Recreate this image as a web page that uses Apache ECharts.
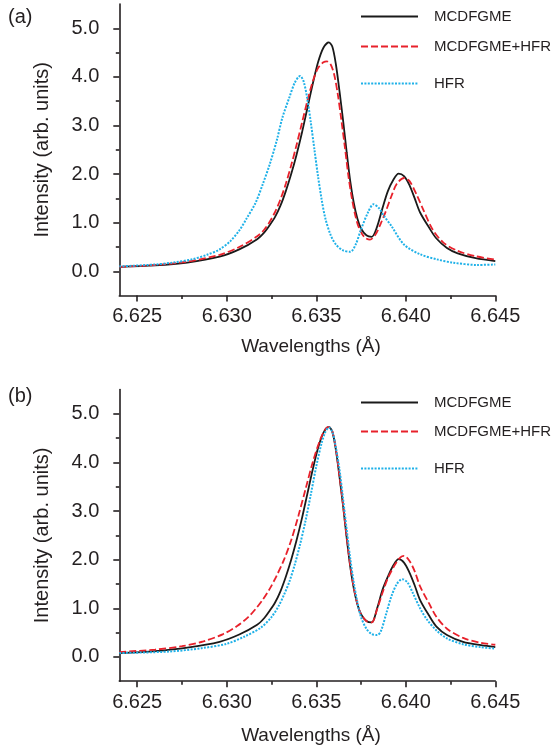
<!DOCTYPE html>
<html><head><meta charset="utf-8">
<script src="https://cdn.jsdelivr.net/npm/echarts@6/dist/echarts.min.js"></script>
<style>html,body{margin:0;padding:0;background:#fff}#c{width:552px;height:752px}</style>
</head><body><div id="c"></div>
<script>
// ---- tick values / labels ----
const xTicks = [6.625, 6.630, 6.635, 6.640, 6.645];
const xMinorTicks = [6.6275, 6.6325, 6.6375, 6.6425];
const yTicks = [0, 1, 2, 3, 4, 5];
const yMinorTicks = [0.5, 1.5, 2.5, 3.5, 4.5];
const seriesNames = ['MCDFGME', 'MCDFGME+HFR', 'HFR'];
const panelLabels = ['(a)', '(b)'];
const xTitle = 'Wavelengths (Å)';
const yTitle = 'Intensity (arb. units)';

// ---- panel (a) ----
const aBlackX = [6.6240,6.6260,6.6278,6.6296,6.6307,6.6317,6.6321,6.6324,6.6327,6.6330,6.6333,6.6336,6.6339,6.6342,6.6345,6.6348,6.6351,6.6354,6.6357,6.6359,6.6361,6.6363,6.6365,6.6367,6.6369,6.6371,6.6373,6.6375,6.6378,6.6381,6.6384,6.6387,6.6390,6.6393,6.6396,6.6399,6.6402,6.6405,6.6408,6.6413,6.6417,6.6423,6.6429,6.6439,6.6450];
const aBlackY = [0.09,0.12,0.18,0.30,0.45,0.66,0.80,0.95,1.12,1.35,1.65,2.00,2.40,2.85,3.35,3.85,4.30,4.60,4.71,4.62,4.25,3.70,3.10,2.45,1.85,1.40,1.08,0.88,0.74,0.71,0.92,1.30,1.65,1.88,2.01,1.96,1.78,1.50,1.21,0.90,0.68,0.48,0.37,0.27,0.21];
const aRedX = [6.6240,6.6260,6.6278,6.6296,6.6307,6.6317,6.6321,6.6324,6.6327,6.6330,6.6333,6.6336,6.6339,6.6342,6.6345,6.6348,6.6351,6.6354,6.6356,6.6358,6.6360,6.6362,6.6364,6.6366,6.6368,6.6370,6.6372,6.6374,6.6377,6.6380,6.6383,6.6386,6.6389,6.6392,6.6395,6.6399,6.6402,6.6406,6.6410,6.6415,6.6421,6.6429,6.6439,6.6450];
const aRedY = [0.09,0.13,0.20,0.34,0.50,0.72,0.86,1.02,1.22,1.48,1.80,2.18,2.60,3.05,3.50,3.90,4.18,4.30,4.32,4.26,4.05,3.65,3.12,2.55,1.95,1.48,1.12,0.88,0.70,0.65,0.75,0.98,1.25,1.55,1.80,1.92,1.86,1.58,1.25,0.86,0.59,0.42,0.31,0.24];
const aBlueX = [6.6240,6.6260,6.6270,6.6281,6.6289,6.6296,6.6302,6.6307,6.6311,6.6316,6.6320,6.6324,6.6328,6.6331,6.6335,6.6338,6.6341,6.6343,6.6345,6.6347,6.6349,6.6351,6.6353,6.6355,6.6358,6.6361,6.6365,6.6369,6.6372,6.6375,6.6379,6.6382,6.6385,6.6388,6.6392,6.6399,6.6408,6.6418,6.6426,6.6440,6.6450];
const aBlueY = [0.10,0.14,0.18,0.25,0.34,0.45,0.62,0.84,1.08,1.40,1.78,2.20,2.70,3.15,3.58,3.88,4.02,3.90,3.55,3.05,2.50,1.95,1.48,1.10,0.75,0.55,0.43,0.40,0.55,0.86,1.22,1.38,1.30,1.13,0.93,0.55,0.35,0.24,0.18,0.13,0.14];

// ---- panel (b) ----
const bBlackX = [6.6240,6.6260,6.6278,6.6296,6.6307,6.6317,6.6321,6.6324,6.6327,6.6330,6.6333,6.6336,6.6339,6.6342,6.6345,6.6348,6.6351,6.6354,6.6357,6.6359,6.6361,6.6363,6.6365,6.6367,6.6369,6.6371,6.6373,6.6375,6.6378,6.6381,6.6384,6.6387,6.6390,6.6393,6.6396,6.6399,6.6402,6.6405,6.6408,6.6413,6.6417,6.6423,6.6432,6.6442,6.6450];
const bBlackY = [0.08,0.12,0.19,0.31,0.46,0.66,0.80,0.95,1.12,1.35,1.65,2.00,2.40,2.85,3.35,3.85,4.30,4.61,4.73,4.63,4.25,3.70,3.10,2.45,1.85,1.40,1.08,0.88,0.74,0.71,1.00,1.38,1.65,1.88,2.01,1.94,1.74,1.47,1.17,0.85,0.63,0.45,0.31,0.24,0.20];
const bRedX = [6.6240,6.6260,6.6275,6.6287,6.6298,6.6306,6.6312,6.6316,6.6320,6.6324,6.6328,6.6332,6.6336,6.6340,6.6344,6.6348,6.6352,6.6355,6.6357,6.6359,6.6361,6.6363,6.6365,6.6367,6.6369,6.6371,6.6373,6.6375,6.6378,6.6381,6.6384,6.6387,6.6390,6.6394,6.6397,6.6399,6.6402,6.6405,6.6408,6.6413,6.6417,6.6423,6.6432,6.6442,6.6450];
const bRedY = [0.10,0.15,0.22,0.32,0.47,0.64,0.82,0.98,1.17,1.40,1.68,2.00,2.40,2.90,3.45,4.00,4.45,4.68,4.73,4.64,4.27,3.72,3.12,2.47,1.87,1.42,1.09,0.88,0.74,0.71,0.98,1.32,1.62,1.90,2.05,2.08,1.98,1.76,1.45,1.10,0.83,0.58,0.39,0.29,0.25];
const bBlueX = [6.6240,6.6268,6.6286,6.6300,6.6310,6.6319,6.6325,6.6329,6.6332,6.6335,6.6338,6.6341,6.6344,6.6347,6.6350,6.6353,6.6355,6.6357,6.6359,6.6361,6.6363,6.6365,6.6367,6.6369,6.6371,6.6373,6.6375,6.6378,6.6381,6.6384,6.6386,6.6389,6.6392,6.6395,6.6398,6.6401,6.6404,6.6408,6.6412,6.6417,6.6423,6.6432,6.6442,6.6450];
const bBlueY = [0.08,0.11,0.18,0.27,0.42,0.60,0.82,1.05,1.28,1.55,1.90,2.32,2.80,3.35,3.92,4.40,4.62,4.72,4.63,4.30,3.85,3.25,2.62,2.02,1.52,1.12,0.82,0.58,0.47,0.45,0.52,0.88,1.25,1.50,1.60,1.53,1.31,1.00,0.76,0.55,0.38,0.26,0.20,0.17];

const INK = '#231f20';
const FONT = '"Liberation Sans", Arial, Helvetica, sans-serif';
const colors = ['#1a1a1a', '#e8212b', '#1fb1e8'];
const lineTypes = ['solid', [7, 3], [2, 1.4]];
const panels = [
  [[aBlackX, aBlackY], [aRedX, aRedY], [aBlueX, aBlueY]],
  [[bBlackX, bBlackY], [bRedX, bRedY], [bBlueX, bBlueY]]
];
const gridTops = [4, 389.6];
const gridH = 291.6;
const legendRows = [[17, 47, 84], [403, 432, 469]];
const labelYs = [17.5, 396];
const xTitleYs = [347, 736];
const axisLS = { color: INK, width: 1.6 };

const option = {
  animation: false,
  backgroundColor: '#fff',
  grid: gridTops.map(t => ({ left: 119.3, right: 56.7, top: t, height: gridH })),
  xAxis: [], yAxis: [], series: [], legend: [], graphic: []
};

gridTops.forEach((t, gi) => {
  option.xAxis.push({
    gridIndex: gi, type: 'value', min: 6.624, max: 6.645, position: 'bottom',
    axisLine: { show: true, onZero: false, lineStyle: axisLS },
    axisTick: { show: true, customValues: xTicks, length: 6, lineStyle: axisLS },
    axisLabel: { customValues: xTicks, formatter: v => v.toFixed(3), fontSize: 20, color: INK, fontFamily: FONT, margin: 11 },
    splitLine: { show: false }
  });
  option.xAxis.push({
    gridIndex: gi, type: 'value', min: 6.624, max: 6.645, position: 'bottom',
    axisLine: { show: false, onZero: false },
    axisTick: { show: true, customValues: xMinorTicks, length: 3.5, lineStyle: axisLS },
    axisLabel: { show: false }, splitLine: { show: false }
  });
  option.yAxis.push({
    gridIndex: gi, type: 'value', min: -0.5, max: 5.5, position: 'left',
    axisLine: { show: true, onZero: false, lineStyle: axisLS },
    axisTick: { show: true, customValues: yTicks, length: 6, lineStyle: axisLS },
    axisLabel: { customValues: yTicks, formatter: v => v.toFixed(1), fontSize: 20, color: INK, fontFamily: FONT, margin: 20 },
    splitLine: { show: false }
  });
  option.yAxis.push({
    gridIndex: gi, type: 'value', min: -0.5, max: 5.5, position: 'left',
    axisLine: { show: false, onZero: false },
    axisTick: { show: true, customValues: yMinorTicks, length: 3.5, lineStyle: axisLS },
    axisLabel: { show: false }, splitLine: { show: false }
  });
  panels[gi].forEach((xy, si) => {
    option.series.push({
      type: 'line', name: seriesNames[si], xAxisIndex: gi * 2, yAxisIndex: gi * 2,
      data: xy[0].map((x, i) => [x, xy[1][i]]),
      symbol: 'none', smooth: 0.3,
      lineStyle: { color: colors[si], width: si === 2 ? 2 : 1.8, type: lineTypes[si] },
      itemStyle: { color: colors[si] }
    });
    option.legend.push({
      data: [seriesNames[si]], left: 360, top: legendRows[gi][si] - 8, padding: 0,
      itemWidth: 57, itemHeight: 14, selectedMode: false,
      itemStyle: { opacity: 0, borderWidth: 0 },
      textStyle: { fontSize: 15, color: INK, fontFamily: FONT, padding: [0, 0, 0, 11] }
    });
  });
  option.graphic.push({
    type: 'text', x: 8, y: labelYs[gi], style: { text: panelLabels[gi], fontSize: 20, fontFamily: FONT, fill: INK, verticalAlign: 'middle' }
  });
  option.graphic.push({
    type: 'text', x: 42, y: t + gridH / 2, rotation: Math.PI / 2,
    style: { text: yTitle, fontSize: 20, fontFamily: FONT, fill: INK, align: 'center', verticalAlign: 'middle' }
  });
  option.graphic.push({
    type: 'text', x: 311, y: xTitleYs[gi],
    style: { text: xTitle, fontSize: 19, fontFamily: FONT, fill: INK, align: 'center', verticalAlign: 'middle' }
  });
});

const chart = echarts.init(document.getElementById('c'), null, { renderer: 'canvas' });
chart.setOption(option);
</script>
</body></html>
